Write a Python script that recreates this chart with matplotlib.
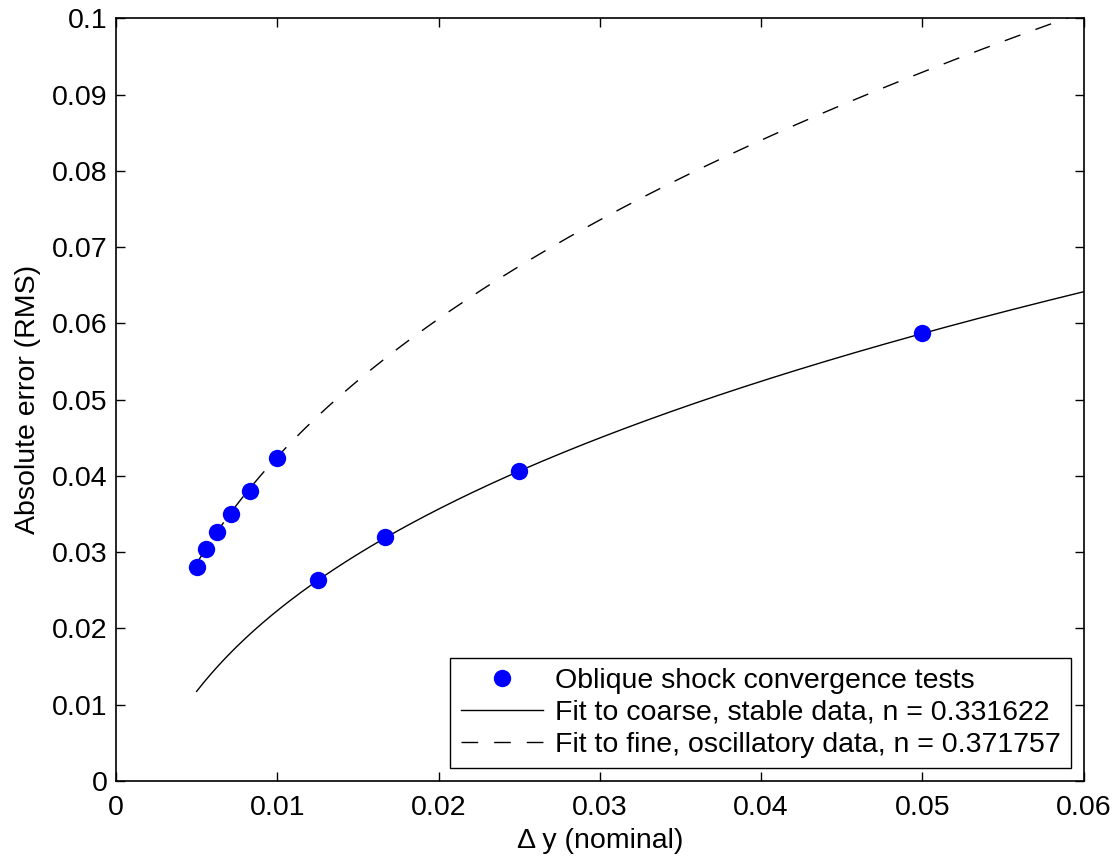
import numpy as np
import matplotlib
matplotlib.use("Agg")
import matplotlib.pyplot as plt

plt.rcParams['font.family'] = ['Liberation Sans', 'DejaVu Sans']

# measured convergence data (grid spacing, RMS error)
dy_coarse = [0.0125, 0.016667, 0.025, 0.05]
err_coarse = [0.0263, 0.0320, 0.0406, 0.0587]
dy_fine = [0.005, 0.005556, 0.00625, 0.007143, 0.008333, 0.01]
err_fine = [0.0280, 0.0304, 0.0326, 0.0350, 0.0380, 0.0424]

# fit parameters, err = a + b * dy^n
coarse_fit = {"a": -0.0292, "b": 0.2373, "n": 0.331622}
fine_fit = {"a": -0.0191, "b": 0.3412, "n": 0.371757}
fit_range = [0.005, 0.06]

FS = 20.5

fig = plt.figure(figsize=(11.15, 8.57), dpi=100)
ax = fig.add_axes([0.104, 0.0887, 0.868, 0.890])

xs = np.linspace(fit_range[0], fit_range[1], 400)

ax.plot(dy_coarse + dy_fine, err_coarse + err_fine, 'o', color='#0000ff',
        markersize=12.5, markeredgewidth=0,
        label='Oblique shock convergence tests', zorder=3)
ax.plot(xs, coarse_fit["a"] + coarse_fit["b"] * xs ** coarse_fit["n"], '-',
        color='black', lw=1.0,
        label='Fit to coarse, stable data, n = %g' % coarse_fit["n"])
ax.plot(xs, fine_fit["a"] + fine_fit["b"] * xs ** fine_fit["n"],
        color='black', lw=1.0, linestyle=(0, (12, 11.5)),
        label='Fit to fine, oscillatory data, n = %g' % fine_fit["n"])

ax.set_xlim(0, 0.06)
ax.set_ylim(0, 0.1)
ax.set_xticks([0, 0.01, 0.02, 0.03, 0.04, 0.05, 0.06])
ax.set_xticklabels(['0', '0.01', '0.02', '0.03', '0.04', '0.05', '0.06'])
ax.set_yticks(np.arange(0, 0.101, 0.01))
ax.set_yticklabels(['0', '0.01', '0.02', '0.03', '0.04', '0.05', '0.06',
                    '0.07', '0.08', '0.09', '0.1'])

ax.tick_params(direction='in', length=6.5, width=1.0, labelsize=FS,
               top=True, right=True)
ax.tick_params(axis='x', pad=10)
ax.tick_params(axis='y', pad=6)
for s in ax.spines.values():
    s.set_linewidth(1.2)

ax.set_xlabel('\u0394 y (nominal)', fontsize=FS, labelpad=5)
ax.set_ylabel('Absolute error (RMS)', fontsize=FS, labelpad=8)

leg = ax.legend(loc='lower right', fontsize=FS, frameon=True, fancybox=False,
                edgecolor='black', framealpha=1, handlelength=2.9,
                handletextpad=0.4, labelspacing=0.2, borderpad=0.37,
                borderaxespad=0.45, numpoints=1)
leg.get_frame().set_linewidth(1.0)

fig.savefig('out.png', dpi=100)
